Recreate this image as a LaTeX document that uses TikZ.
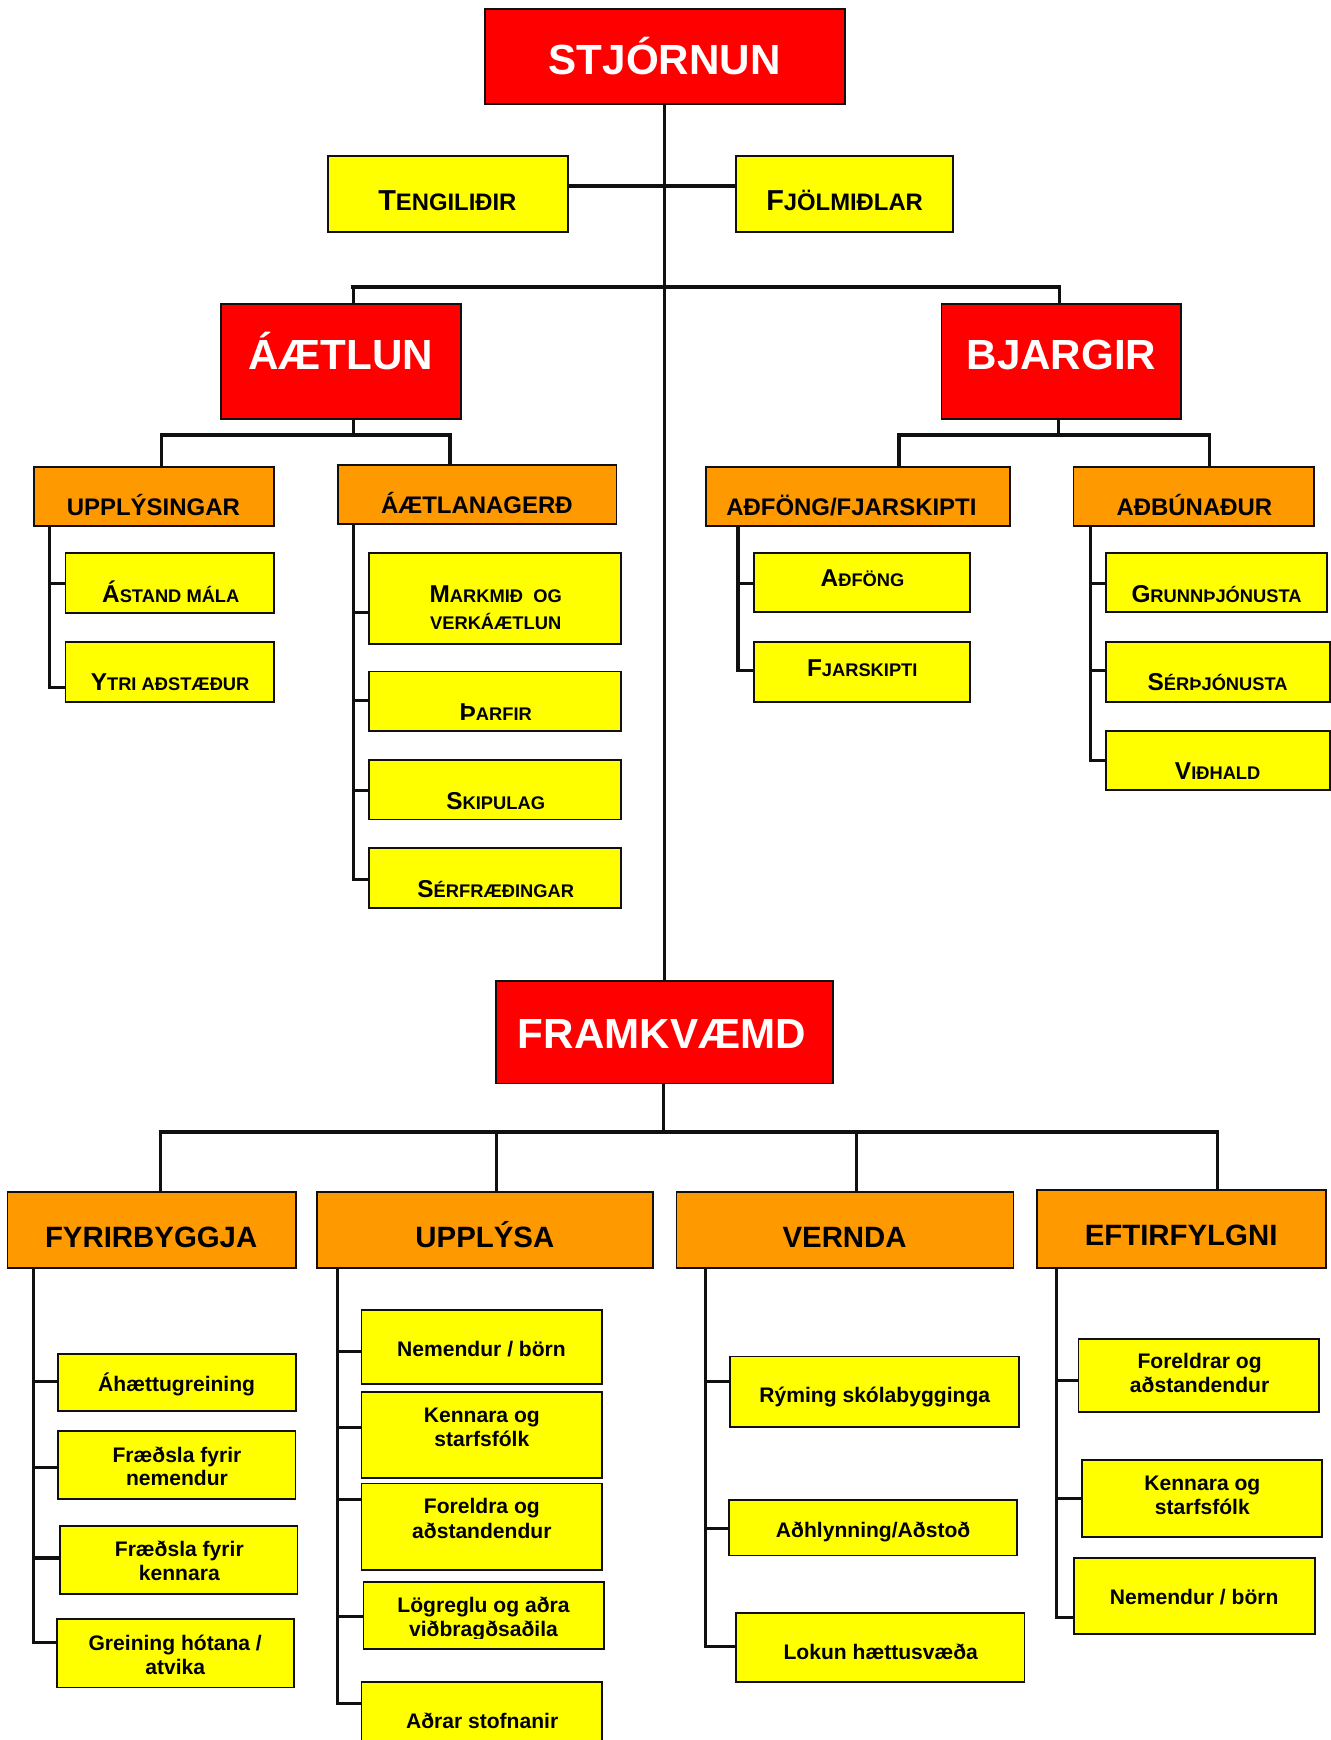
\documentclass[tikz,border=0pt]{standalone}
\usepackage{fontspec}
\setmainfont{Liberation Sans}
\usetikzlibrary{fit}
\definecolor{cred}{HTML}{FF0000}
\definecolor{cyel}{HTML}{FFFF00}
\definecolor{corg}{HTML}{FF9900}
\definecolor{cline}{HTML}{101010}
\newcommand\scy[2]{{\fontsize{22}{24}\selectfont #1}{\fontsize{16.5}{18}\selectfont #2}}
\newcommand\sct[2]{{\fontsize{26}{28}\selectfont #1}{\fontsize{21.5}{23}\selectfont #2}}
\newcommand\bx[6]{\node[#2, fit={(#3,#4) (#5,#6)}] (#1) {};}
\newcommand\tx[5]{\node[#2] (#1) at (#3,#4) {#5};}
\tikzset{
 boxbase/.style={draw=cline, line width=1.6pt, inner sep=0pt, outer sep=0pt},
 redbox/.style={boxbase, fill=cred},
 yelbox/.style={boxbase, fill=cyel},
 orgbox/.style={boxbase, fill=corg},
 conn/.style={draw=cline, line width=2.8pt},
 barline/.style={draw=cline, line width=3.4pt},
 tbase/.style={inner sep=0pt, outer sep=0pt, anchor=base},
 ttl/.style={tbase, text=white, font=\fontsize{38}{40}\selectfont\bfseries},
 sc/.style={tbase, text=black, font=\bfseries},
 ot/.style={tbase, text=black, font=\fontsize{21.6}{23}\selectfont\bfseries},
 ob/.style={tbase, text=black, font=\fontsize{26.5}{28}\selectfont\bfseries},
 yb/.style={tbase, text=black, font=\fontsize{19}{21}\selectfont\bfseries},
}
\begin{document}
\begin{tikzpicture}[x=1pt,y=-1pt]
\useasboundingbox[fill=white] (0,0) rectangle (1200,1569);
% ---------- title boxes ----------
\bx{stj}{redbox}{437}{8}{762}{94}
\bx{aetl}{redbox}{199}{274}{416}{377.5}
\bx{bjarg}{redbox}{849}{274}{1065}{377.5}
\bx{fram}{redbox}{447}{884.5}{751}{977}
% top yellow
\bx{teng}{yelbox}{296}{140.5}{512.5}{209}
\bx{fjol}{yelbox}{663.5}{140.5}{859}{209}
% orange top
\bx{upps}{orgbox}{30.5}{421}{247}{474}
\bx{aetlg}{orgbox}{304.5}{419.5}{556}{472.5}
\bx{adfj}{orgbox}{636.5}{421}{911}{474}
\bx{adbu}{orgbox}{968}{421}{1185}{474}
% yellow top
\bx{astand}{yelbox}{59}{498.6}{247}{552.4}
\bx{ytri}{yelbox}{59}{578.9}{247}{632.7}
\bx{markm}{yelbox}{333}{498.8}{560}{580.8}
\bx{tharf}{yelbox}{333}{605.5}{560}{659}
\bx{skip}{yelbox}{333}{685}{560}{739}
\bx{serf}{yelbox}{333}{764.8}{560}{818.6}
\bx{adf}{yelbox}{680}{498.6}{875}{552}
\bx{fjar}{yelbox}{680}{579}{875}{632.7}
\bx{grunn}{yelbox}{997}{498.6}{1196.5}{552}
\bx{serth}{yelbox}{997}{579}{1199}{632.7}
\bx{vidh}{yelbox}{997}{659.2}{1199}{712.4}
% orange bottom
\bx{fyr}{orgbox}{6.7}{1074.7}{266.7}{1143.4}
\bx{upp}{orgbox}{285.8}{1074.7}{589}{1143.4}
\bx{ver}{orgbox}{610}{1074.7}{913.8}{1143.4}
\bx{eft}{orgbox}{935}{1073.3}{1195.7}{1143.4}
% yellow bottom
\bx{aha}{yelbox}{52.4}{1221}{266.7}{1272}
\bx{fn}{yelbox}{52.4}{1290.5}{266.5}{1351.8}
\bx{fk}{yelbox}{54.3}{1375.8}{268.2}{1437.2}
\bx{gre}{yelbox}{51.2}{1460}{265.1}{1521.6}
\bx{nba}{yelbox}{326}{1181}{543}{1248.3}
\bx{ksa}{yelbox}{326}{1255}{543}{1333}
\bx{faa}{yelbox}{326}{1337.6}{543}{1416}
\bx{log}{yelbox}{327.7}{1426.4}{544.7}{1487}
\bx{adr}{yelbox}{326}{1517}{543}{1600}
\bx{rym}{yelbox}{658.4}{1223.2}{918.5}{1286.5}
\bx{adh}{yelbox}{657.2}{1352.4}{917.3}{1402.6}
\bx{lok}{yelbox}{663.4}{1454.2}{923.9}{1517}
\bx{fob}{yelbox}{972.5}{1207.4}{1189.4}{1273}
\bx{ksb}{yelbox}{975.7}{1316.5}{1192.4}{1386}
\bx{nbb}{yelbox}{968.3}{1405}{1185.5}{1473.5}
% ---------- connectors ----------
% trunk
\draw[conn] (stj.south -| 599,0) -- (fram.north -| 599,0);
\coordinate (tj) at (599,167.4);
\draw[barline] (teng.east |- tj) -- (fjol.west |- tj);
% top bar
\coordinate (topbar) at (599,259);
\draw[barline] (316.8,259) -- (957,259);
\draw[conn] (318.5,259) -- (aetl.north -| 318.5,0);
\draw[conn] (955.3,259) -- (bjarg.north -| 955.3,0);
% AAETLUN
\draw[conn] (aetl.south -| 318.5,0) -- (318.5,392);
\draw[barline] (144.5,392) -- (407.3,392);
\draw[conn] (146,392) -- (upps.north -| 146,0);
\draw[conn] (405.8,392) -- (aetlg.north -| 405.8,0);
% BJARGIR
\draw[conn] (bjarg.south -| 954.5,0) -- (954.5,392);
\draw[barline] (809,392) -- (1092.3,392);
\draw[conn] (810.6,392) -- (adfj.north -| 810.6,0);
\draw[conn] (1090.8,392) -- (adbu.north -| 1090.8,0);
% UPPLYSINGAR children
\draw[conn] (upps.south -| 45,0) -- (45,619.7) -- (ytri.west |- 0,619.7);
\draw[conn] (45,526) -- (astand.west |- 0,526);
% AETLANAGERD children
\draw[conn] (aetlg.south -| 318.8,0) -- (318.8,792.9) -- (serf.west |- 0,792.9);
\draw[conn] (318.8,552.5) -- (markm.west |- 0,552.5);
\draw[conn] (318.8,631.8) -- (tharf.west |- 0,631.8);
\draw[conn] (318.8,712.4) -- (skip.west |- 0,712.4);
% ADFONG/FJARSKIPTI children
\draw[conn] (adfj.south -| 665.5,0) -- (665.5,604.8) -- (fjar.west |- 0,604.8);
\draw[conn] (665.5,526) -- (adf.west |- 0,526);
% ADBUNADUR children
\draw[conn] (adbu.south -| 983,0) -- (983,686) -- (vidh.west |- 0,686);
\draw[conn] (983,526) -- (grunn.west |- 0,526);
\draw[conn] (983,605) -- (serth.west |- 0,605);
% FRAMKVAEMD
\draw[conn] (fram.south -| 598.5,0) -- (598.5,1020.4);
\draw[barline] (143,1020.4) -- (1099.2,1020.4);
\draw[conn] (144.7,1020.4) -- (fyr.north -| 144.7,0);
\draw[conn] (447.7,1020.4) -- (upp.north -| 447.7,0);
\draw[conn] (772,1020.4) -- (ver.north -| 772,0);
\draw[conn] (1097.5,1020.4) -- (eft.north -| 1097.5,0);
% FYRIRBYGGJA children
\draw[conn] (fyr.south -| 30.1,0) -- (30.1,1481.2) -- (gre.west |- 0,1481.2);
\draw[conn] (30.1,1245.6) -- (aha.west |- 0,1245.6);
\draw[conn] (30.1,1323.3) -- (fn.west |- 0,1323.3);
\draw[conn] (30.1,1404.9) -- (fk.west |- 0,1404.9);
% UPPLYSA children
\draw[conn] (upp.south -| 304.6,0) -- (304.6,1536.4) -- (adr.west |- 0,1536.4);
\draw[conn] (304.6,1219) -- (nba.west |- 0,1219);
\draw[conn] (304.6,1287.4) -- (ksa.west |- 0,1287.4);
\draw[conn] (304.6,1352) -- (faa.west |- 0,1352);
\draw[conn] (304.6,1457.8) -- (log.west |- 0,1457.8);
% VERNDA children
\draw[conn] (ver.south -| 636.4,0) -- (636.4,1485) -- (lok.west |- 0,1485);
\draw[conn] (636.4,1245.6) -- (rym.west |- 0,1245.6);
\draw[conn] (636.4,1378.4) -- (adh.west |- 0,1378.4);
% EFTIRFYLGNI children
\draw[conn] (eft.south -| 953,0) -- (953,1458.7) -- (nbb.west |- 0,1458.7);
\draw[conn] (953,1245.2) -- (fob.west |- 0,1245.2);
\draw[conn] (953,1351.5) -- (ksb.west |- 0,1351.5);
% ---------- texts ----------
\tx{stjt}{ttl}{599.4}{67.6}{STJÓRNUN}
\tx{aetlt}{ttl}{307.3}{333.6}{ÁÆTLUN}
\tx{bjargt}{ttl}{957.2}{333.6}{BJARGIR}
\tx{framt}{ttl}{596.8}{945.5}{FRAMKVÆMD}
\tx{tengt}{sc}{403.4}{189.4}{\sct{T}{ENGILIÐIR}}
\tx{fjolt}{sc}{761.6}{189.4}{\sct{F}{JÖLMIÐLAR}}
\tx{uppst}{ot}{138.3}{464.4}{UPPLÝSINGAR}
\tx{aetlgt}{ot}{430}{463}{ÁÆTLANAGERÐ}
\tx{adfjt}{ot}{767.7}{464.4}{AÐFÖNG/FJARSKIPTI}
\tx{adbut}{ot}{1077}{464.4}{AÐBÚNAÐUR}
\tx{astandt}{sc}{154}{543}{\scy{Á}{STAND MÁLA}}
\tx{ytrit}{sc}{153.4}{622.8}{\scy{Y}{TRI AÐSTÆÐUR}}
\tx{markmt}{sc}{447}{543}{\scy{M}{ARKMIÐ\ \ OG}}
\tx{markmtb}{sc}{447}{568}{\scy{}{VERKÁÆTLUN}}
\tx{tharft}{sc}{447}{649.8}{\scy{Þ}{ARFIR}}
\tx{skipt}{sc}{447}{729.6}{\scy{S}{KIPULAG}}
\tx{serft}{sc}{447}{809}{\scy{S}{ÉRFRÆÐINGAR}}
\tx{adft}{sc}{777.8}{529}{\scy{A}{ÐFÖNG}}
\tx{fjart}{sc}{777.5}{609.6}{\scy{F}{JARSKIPTI}}
\tx{grunnt}{sc}{1097}{543}{\scy{G}{RUNNÞJÓNUSTA}}
\tx{sertht}{sc}{1098}{622.8}{\scy{S}{ÉRÞJÓNUSTA}}
\tx{vidht}{sc}{1098}{702.5}{\scy{V}{IÐHALD}}
\tx{fyrt}{ob}{136.3}{1124.5}{FYRIRBYGGJA}
\tx{uppt}{ob}{437.2}{1124.5}{UPPLÝSA}
\tx{vert}{ob}{761.6}{1124.5}{VERNDA}
\tx{eftt}{ob}{1065}{1122.7}{EFTIRFYLGNI}
\tx{ahat}{yb}{159.3}{1255}{Áhættugreining}
\tx{fnt}{yb}{159.6}{1318.8}{Fræðsla fyrir}
\tx{fntb}{yb}{159.6}{1339.9}{nemendur}
\tx{fkt}{yb}{161.7}{1403.5}{Fræðsla fyrir}
\tx{fktb}{yb}{161.7}{1425.5}{kennara}
\tx{gret}{yb}{158}{1488.3}{Greining hótana /}
\tx{gretb}{yb}{158}{1509.8}{atvika}
\tx{nbat}{yb}{434.2}{1223.2}{Nemendur / börn}
\tx{ksat}{yb}{434.5}{1282.9}{Kennara og}
\tx{ksatb}{yb}{434.5}{1304.4}{starfsfólk}
\tx{faat}{yb}{434.5}{1365}{Foreldra og}
\tx{faatb}{yb}{434.5}{1387.4}{aðstandendur}
\tx{logt}{yb}{436}{1454.2}{Lögreglu og aðra}
\begin{scope}
\clip (327.7,1426.4) rectangle (544.7,1477.3);
\tx{logtb}{yb}{436}{1475.7}{viðbragðsaðila}
\end{scope}
\tx{adrt}{yb}{434.8}{1558.8}{Aðrar stofnanir}
\tx{rymt}{yb}{788.8}{1265}{Rýming skólabygginga}
\tx{adht}{yb}{787.3}{1386.8}{Aðhlynning/Aðstoð}
\tx{lokt}{yb}{794.2}{1496.8}{Lokun hættusvæða}
\tx{fobt}{yb}{1081.7}{1234.4}{Foreldrar og}
\tx{fobtb}{yb}{1081.7}{1256}{aðstandendur}
\tx{ksbt}{yb}{1084.2}{1343.8}{Kennara og}
\tx{ksbtb}{yb}{1084.2}{1365.4}{starfsfólk}
\tx{nbbt}{yb}{1076.8}{1447}{Nemendur / börn}
\end{tikzpicture}
\end{document}
